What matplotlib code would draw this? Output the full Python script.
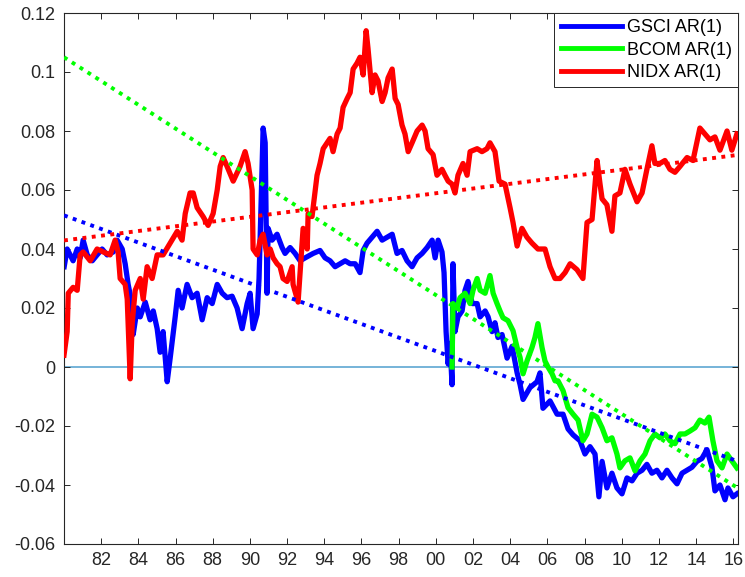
import numpy as np
import matplotlib
matplotlib.use("Agg")
import matplotlib.pyplot as plt

plt.rcParams['font.family'] = ['Liberation Sans', 'DejaVu Sans']

# GSCI AR(1)
gsci_t = [1980.01, 1980.17, 1980.33, 1980.49, 1980.71, 1980.87, 1981.03, 1981.25, 1981.52, 1981.78,
          1982.05, 1982.32, 1982.65, 1982.86, 1983.13, 1983.29, 1983.45, 1983.67, 1983.72, 1983.94,
          1984.10, 1984.37, 1984.63, 1984.80, 1985.01, 1985.17, 1985.33, 1985.55, 1985.71, 1985.98,
          1986.14, 1986.35, 1986.62, 1986.89, 1987.16, 1987.43, 1987.70, 1987.97, 1988.24, 1988.51,
          1988.77, 1989.04, 1989.31, 1989.58, 1989.85, 1990.01, 1990.17, 1990.39, 1990.49, 1990.60,
          1990.71, 1990.82, 1990.92, 1990.98, 1991.19, 1991.46, 1991.73, 1991.89, 1992.16, 1992.43,
          1992.70, 1992.97, 1993.40, 1993.77, 1994.04, 1994.31, 1994.58, 1994.85, 1995.12, 1995.39,
          1995.66, 1995.92, 1996.09, 1996.30, 1996.57, 1996.84, 1997.11, 1997.38, 1997.65, 1997.91,
          1998.18, 1998.45, 1998.72, 1998.99, 1999.26, 1999.53, 1999.80, 1999.96, 2000.12, 2000.33,
          2000.44, 2000.55, 2000.66, 2000.76, 2000.87, 2000.92, 2001.03, 2001.19, 2001.41, 2001.57,
          2001.73, 2001.95, 2002.22, 2002.38, 2002.65, 2002.81, 2003.02, 2003.18, 2003.34, 2003.56,
          2003.83, 2004.10, 2004.37, 2004.53, 2004.69, 2005.06, 2005.44, 2005.60, 2005.76, 2006.14,
          2006.52, 2006.84, 2007.11, 2007.38, 2007.75, 2008.02, 2008.29, 2008.56, 2008.77, 2008.94,
          2009.20, 2009.47, 2009.74, 2010.01, 2010.28, 2010.55, 2010.82, 2011.09, 2011.35, 2011.62,
          2011.89, 2012.16, 2012.43, 2012.70, 2012.97, 2013.24, 2013.51, 2013.77, 2014.04, 2014.31,
          2014.58, 2014.85, 2015.01, 2015.28, 2015.55, 2015.71, 2015.98, 2016.19]
gsci_v = [0.034, 0.040, 0.038, 0.036, 0.040, 0.037, 0.043, 0.038, 0.036, 0.038,
          0.040, 0.038, 0.039, 0.043, 0.040, 0.035, 0.028, 0.021, 0.011, 0.020,
          0.017, 0.022, 0.016, 0.019, 0.013, 0.005, 0.012, -0.005, 0.003, 0.017,
          0.026, 0.020, 0.028, 0.0235, 0.025, 0.016, 0.0235, 0.0215, 0.028, 0.025,
          0.0235, 0.024, 0.020, 0.013, 0.0215, 0.025, 0.013, 0.018, 0.030, 0.056,
          0.081, 0.076, 0.025, 0.047, 0.043, 0.045, 0.0405, 0.0385, 0.0405, 0.0385,
          0.036, 0.037, 0.0385, 0.0395, 0.037, 0.036, 0.034, 0.035, 0.036, 0.035,
          0.035, 0.032, 0.0395, 0.042, 0.044, 0.046, 0.043, 0.044, 0.045, 0.0385,
          0.0395, 0.036, 0.034, 0.037, 0.0385, 0.0405, 0.043, 0.037, 0.043, 0.039,
          0.032, 0.012, 0.001, 0.008, -0.006, 0.035, 0.012, 0.017, 0.019, 0.026,
          0.029, 0.0215, 0.0215, 0.017, 0.019, 0.017, 0.012, 0.015, 0.010, 0.011,
          0.003, 0.007, -0.002, -0.006, -0.011, -0.007, -0.005, -0.002, -0.014, -0.0115,
          -0.016, -0.016, -0.021, -0.023, -0.025, -0.0295, -0.027, -0.0295, -0.044, -0.032,
          -0.041, -0.036, -0.041, -0.043, -0.0376, -0.0386, -0.036, -0.035, -0.033, -0.036,
          -0.035, -0.0376, -0.035, -0.0376, -0.0396, -0.036, -0.035, -0.034, -0.032, -0.031,
          -0.028, -0.034, -0.042, -0.040, -0.045, -0.041, -0.044, -0.043]

# BCOM AR(1)
bcom_t = [2000.87, 2000.92, 2001.14, 2001.30, 2001.57, 2001.84, 2002.00, 2002.22, 2002.38, 2002.65,
          2002.91, 2003.08, 2003.29, 2003.45, 2003.61, 2003.88, 2004.15, 2004.37, 2004.53, 2004.69,
          2004.90, 2005.17, 2005.33, 2005.49, 2005.71, 2005.87, 2006.03, 2006.25, 2006.41, 2006.57,
          2006.84, 2007.11, 2007.38, 2007.65, 2007.91, 2008.13, 2008.40, 2008.67, 2008.94, 2009.20,
          2009.47, 2009.74, 2009.90, 2010.17, 2010.44, 2010.71, 2010.98, 2011.25, 2011.52, 2011.78,
          2012.05, 2012.32, 2012.59, 2012.86, 2013.13, 2013.40, 2013.67, 2013.94, 2014.20, 2014.47,
          2014.69, 2014.90, 2015.12, 2015.39, 2015.66, 2015.92, 2016.19]
bcom_v = [0.000, 0.0215, 0.020, 0.0235, 0.025, 0.0215, 0.026, 0.030, 0.026, 0.025,
          0.031, 0.025, 0.0215, 0.019, 0.0167, 0.0157, 0.0123, 0.0066, 0.0032, -0.0023,
          0.002, 0.0066, 0.010, 0.0147, 0.0066, 0.002, 0.000, -0.0023, -0.0047, -0.0047,
          -0.008, -0.0138, -0.016, -0.018, -0.025, -0.0227, -0.016, -0.017, -0.0206, -0.025,
          -0.024, -0.0295, -0.0342, -0.0318, -0.0308, -0.0352, -0.0318, -0.0295, -0.025, -0.0227,
          -0.024, -0.0227, -0.025, -0.026, -0.0227, -0.0227, -0.0217, -0.0206, -0.018, -0.019,
          -0.017, -0.025, -0.0318, -0.0342, -0.0295, -0.0318, -0.0342]

# NIDX AR(1)
nidx_t = [1980.00, 1980.17, 1980.23, 1980.49, 1980.71, 1980.87, 1981.03, 1981.41, 1981.78, 1982.11,
          1982.48, 1982.75, 1982.91, 1983.02, 1983.29, 1983.40, 1983.56, 1983.67, 1983.83, 1984.10,
          1984.26, 1984.47, 1984.74, 1985.01, 1985.33, 1985.71, 1986.09, 1986.35, 1986.52, 1986.78,
          1986.95, 1987.16, 1987.48, 1987.75, 1988.02, 1988.24, 1988.40, 1988.56, 1988.77, 1989.10,
          1989.47, 1989.74, 1989.90, 1990.12, 1990.17, 1990.39, 1990.55, 1990.71, 1990.92, 1991.09,
          1991.25, 1991.46, 1991.62, 1991.78, 1992.00, 1992.27, 1992.32, 1992.59, 1992.70, 1992.86,
          1993.08, 1993.13, 1993.34, 1993.51, 1993.61, 1993.77, 1993.94, 1994.15, 1994.31, 1994.47,
          1994.69, 1994.85, 1995.01, 1995.23, 1995.39, 1995.55, 1995.76, 1995.92, 1996.09, 1996.25,
          1996.35, 1996.57, 1996.73, 1996.89, 1997.11, 1997.27, 1997.43, 1997.65, 1997.81, 1997.97,
          1998.18, 1998.34, 1998.51, 1998.72, 1998.99, 1999.26, 1999.42, 1999.58, 1999.85, 2000.06,
          2000.33, 2000.49, 2000.66, 2000.87, 2001.03, 2001.19, 2001.46, 2001.68, 2001.84, 2002.22,
          2002.48, 2002.75, 2002.91, 2003.18, 2003.40, 2003.72, 2003.99, 2004.15, 2004.37, 2004.63,
          2004.90, 2005.17, 2005.49, 2005.87, 2006.14, 2006.41, 2006.68, 2006.95, 2007.22, 2007.59,
          2007.91, 2008.13, 2008.40, 2008.67, 2008.83, 2008.94, 2009.20, 2009.47, 2009.63, 2009.90,
          2010.17, 2010.44, 2010.82, 2011.09, 2011.35, 2011.62, 2011.78, 2012.05, 2012.32, 2012.59,
          2012.86, 2013.13, 2013.51, 2013.83, 2014.20, 2014.47, 2014.74, 2015.01, 2015.28, 2015.66,
          2015.92, 2016.19]
nidx_v = [0.004, 0.012, 0.025, 0.027, 0.026, 0.038, 0.039, 0.036, 0.040, 0.039,
          0.038, 0.043, 0.039, 0.030, 0.028, 0.023, -0.004, 0.015, 0.026, 0.030,
          0.023, 0.034, 0.030, 0.038, 0.038, 0.042, 0.046, 0.043, 0.052, 0.059,
          0.059, 0.054, 0.051, 0.048, 0.052, 0.060, 0.068, 0.071, 0.068, 0.063,
          0.068, 0.073, 0.069, 0.060, 0.040, 0.038, 0.043, 0.045, 0.038, 0.040,
          0.037, 0.035, 0.034, 0.030, 0.029, 0.034, 0.028, 0.022, 0.032, 0.047,
          0.040, 0.052, 0.051, 0.060, 0.065, 0.069, 0.074, 0.076, 0.0775, 0.073,
          0.079, 0.081, 0.088, 0.091, 0.093, 0.101, 0.103, 0.105, 0.099, 0.114,
          0.108, 0.093, 0.099, 0.097, 0.090, 0.093, 0.098, 0.101, 0.091, 0.089,
          0.082, 0.079, 0.073, 0.076, 0.080, 0.082, 0.080, 0.074, 0.072, 0.065,
          0.067, 0.065, 0.063, 0.062, 0.059, 0.065, 0.069, 0.065, 0.073, 0.074,
          0.073, 0.074, 0.076, 0.073, 0.063, 0.062, 0.054, 0.049, 0.041, 0.047,
          0.044, 0.042, 0.040, 0.040, 0.034, 0.030, 0.030, 0.032, 0.035, 0.033,
          0.030, 0.049, 0.050, 0.070, 0.062, 0.057, 0.055, 0.046, 0.058, 0.059,
          0.067, 0.062, 0.056, 0.059, 0.067, 0.075, 0.069, 0.069, 0.070, 0.067,
          0.066, 0.068, 0.071, 0.070, 0.081, 0.079, 0.077, 0.078, 0.0735, 0.080,
          0.0735, 0.079]

# linear trends (start, end) over the plotted range
trend_t = [1980.0, 2016.25]
gsci_trend = [0.0514, -0.0320]
bcom_trend = [0.1050, -0.0411]
nidx_trend = [0.0429, 0.0719]

names = ['GSCI AR(1)', 'BCOM AR(1)', 'NIDX AR(1)']
colors = ['#0000ff', '#00ff00', '#ff0000']

fig = plt.figure(figsize=(7.45, 5.77), dpi=100)
ax = fig.add_axes([64/745, 1 - 544/577, 674/745, 531/577])

ax.axhline(0, color='#6aaed6', lw=1.3, zorder=1)

ax.plot(gsci_t, gsci_v, color=colors[0], lw=3.8, label=names[0], zorder=2)
ax.plot(bcom_t, bcom_v, color=colors[1], lw=3.8, label=names[1], zorder=3)
ax.plot(nidx_t, nidx_v, color=colors[2], lw=3.8, label=names[2], zorder=4)

for tr, c in zip([gsci_trend, bcom_trend, nidx_trend], colors):
    ax.plot(trend_t, tr, color=c, lw=2.8, ls=(0, (1, 1.4)), dash_capstyle='butt', zorder=5)

ax.set_xlim(1980.0, 2016.25)
ax.set_ylim(-0.06, 0.12)

xt = np.arange(1982, 2017, 2)
ax.set_xticks(xt)
ax.set_xticklabels(['%02d' % (y % 100) for y in xt])
yt = np.round(np.arange(-0.06, 0.121, 0.02), 2)
ax.set_yticks(yt)
ax.set_yticklabels(['%g' % v if v != 0 else '0' for v in yt])

ax.tick_params(direction='in', top=True, right=True, length=4, width=0.7,
               colors='#262626', labelsize=13, pad=6)
for s in ax.spines.values():
    s.set_color('#262626')
    s.set_linewidth(0.8)

leg = ax.legend(loc='upper right', fontsize=13, frameon=True, fancybox=False,
                framealpha=1, edgecolor='#262626', borderaxespad=0.0,
                handlelength=3.4, handletextpad=0.25, labelspacing=0.3,
                borderpad=0.35)
leg.get_frame().set_linewidth(0.7)
for ln in leg.get_lines():
    ln.set_linewidth(3.5)

fig.savefig('out.png', dpi=100)
